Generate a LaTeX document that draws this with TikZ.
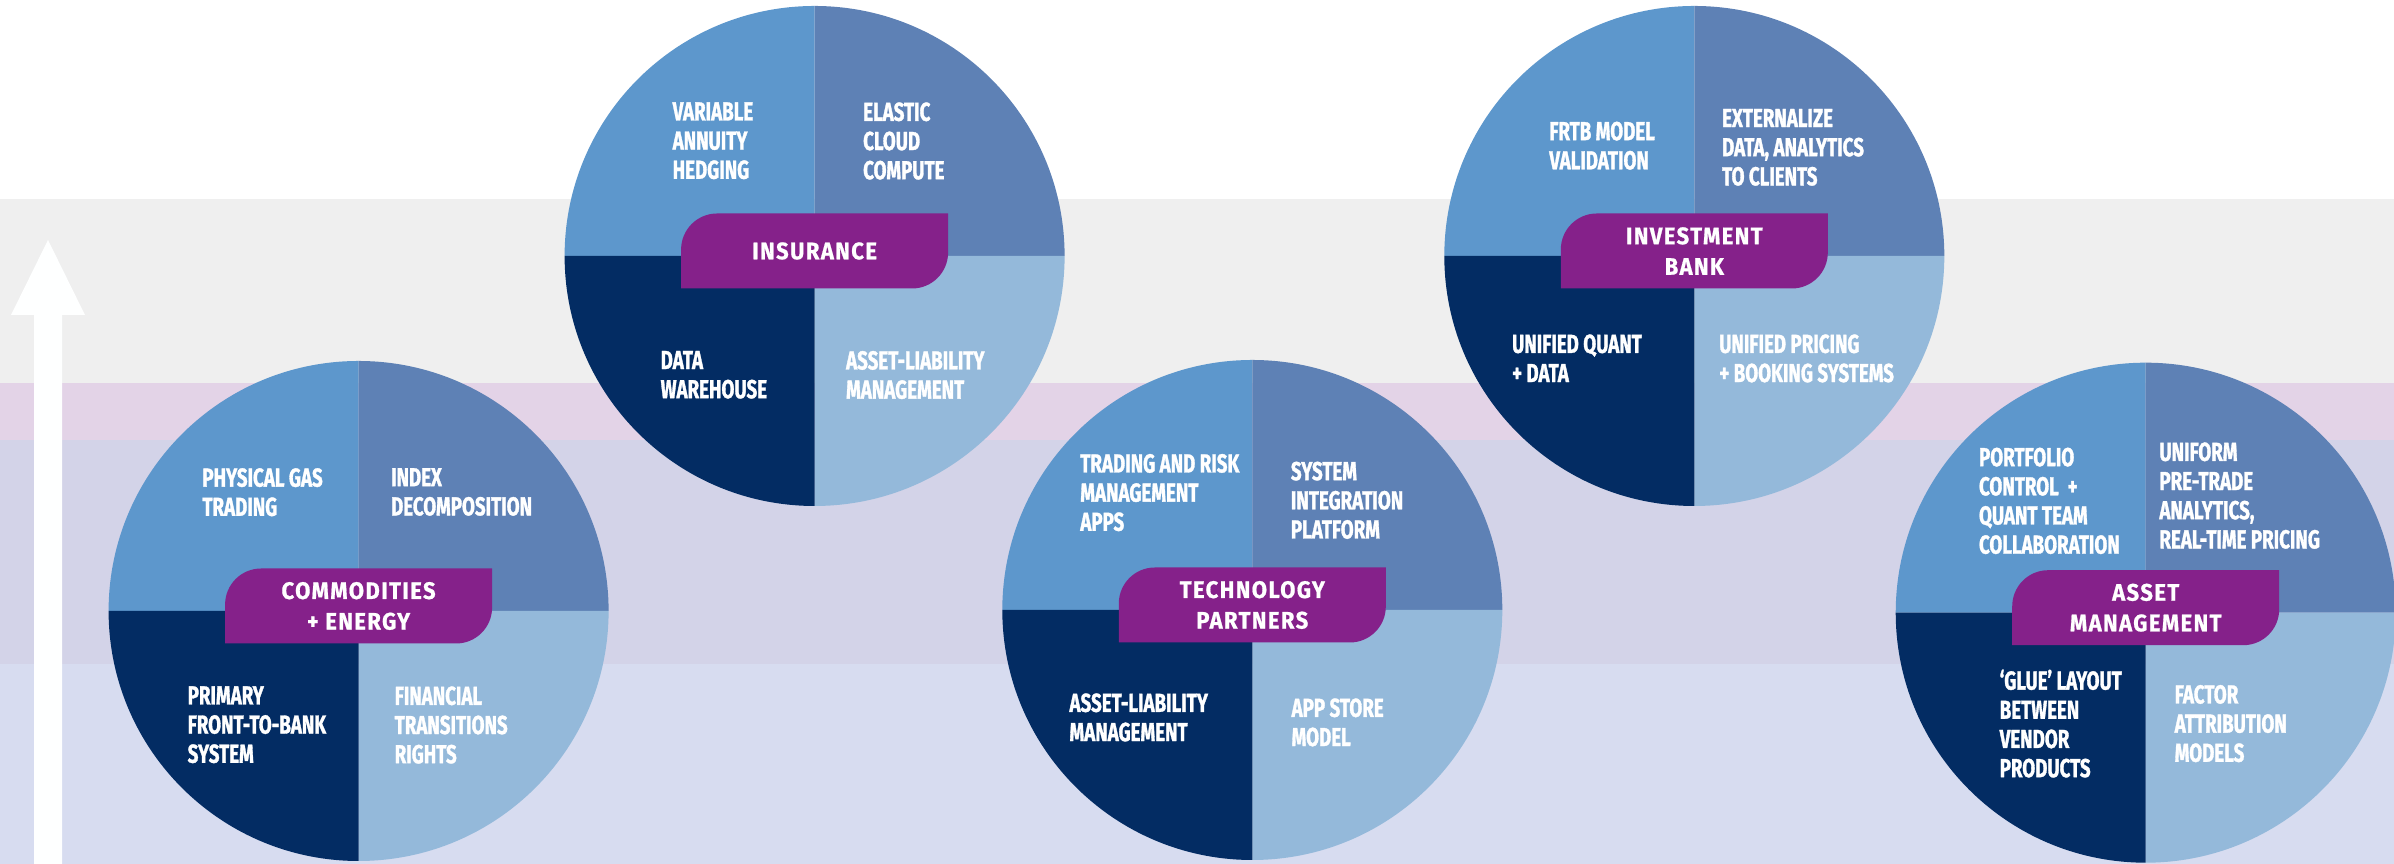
\documentclass[tikz,border=0pt]{standalone}
\usepackage{fontspec}
\usepackage{tikz}
\usetikzlibrary{calc, positioning}
\newfontfamily\quadfont{Fira Sans}[FakeStretch=0.72, BoldFeatures={FakeBold=1.2}]
\newfontfamily\tabfont{Fira Sans}[FakeStretch=0.92, LetterSpace=6, BoldFeatures={FakeBold=0.8}]
\definecolor{bandgray}{HTML}{EFEFEF}
\definecolor{bandpink}{HTML}{E3D3E7}
\definecolor{bandlav}{HTML}{D3D3E8}
\definecolor{bandblue}{HTML}{D7DCF0}
\definecolor{qmid}{HTML}{5D97CC}
\definecolor{qslate}{HTML}{5E81B5}
\definecolor{qnavy}{HTML}{032C63}
\definecolor{qlight}{HTML}{94B9DA}
\definecolor{tabpurple}{HTML}{85218A}

\begin{document}
\begin{tikzpicture}
    % Estilos para los cuadrantes y las pestañas
    \tikzstyle{quad} = [font=\quadfont\bfseries\fontsize{7.4}{8.3}\selectfont, text=white, align=left, inner sep=0pt, anchor=north west]
    \tikzstyle{tab} = [font=\tabfont\bfseries\fontsize{6.8}{8.7}\selectfont, text=white, align=center, inner sep=0pt]
    \tikzstyle{tabfill} = [fill=tabpurple]
    \tikzstyle{qul} = [fill=qmid]
    \tikzstyle{qur} = [fill=qslate]
    \tikzstyle{qll} = [fill=qnavy]
    \tikzstyle{qlr} = [fill=qlight]

    \useasboundingbox (0,0) rectangle (23.94,8.64);

    % Bandas de fondo
    \fill[bandgray] (0,4.81) rectangle (23.94,6.645);
    \fill[bandpink] (0,4.24) rectangle (23.94,4.81);
    \fill[bandlav] (0,2.00) rectangle (23.94,4.24);
    \fill[bandblue] (0,0) rectangle (23.94,2.00);

    % Flecha blanca
    \fill[white!99!bandblue] (0.34,0) -- (0.34,5.49) -- (0.11,5.49) -- (0.48,6.24) -- (0.85,5.49) -- (0.62,5.49) -- (0.62,0) -- cycle;

    % Centros de los círculos
    \node at (3.586,2.53) [coordinate] (com) {};
    \node at (8.146,6.08) [coordinate] (ins) {};
    \node at (12.523,2.54) [coordinate] (tech) {};
    \node at (16.943,6.08) [coordinate] (ib) {};
    \node at (21.457,2.513) [coordinate] (am) {};

    % Commodities + Energy
    \fill[qul] (com) -- ++(-2.5,0) arc[start angle=180, end angle=90, radius=2.5] -- cycle;
    \fill[qur] (com) -- ++(0,2.5) arc[start angle=90, end angle=0, radius=2.5] -- cycle;
    \fill[qlr] (com) -- ++(2.5,0) arc[start angle=0, end angle=-90, radius=2.5] -- cycle;
    \fill[qll] (com) -- ++(0,-2.5) arc[start angle=270, end angle=180, radius=2.5] -- cycle;
    \fill[tabfill] ($(com)+(-1.335,-0.325)$) [rounded corners=3.6mm] -- ++(0,0.75) [sharp corners] -- ++(2.67,0) [rounded corners=3.6mm] -- ++(0,-0.75) [sharp corners] -- cycle;
    \node[tab] (comtab) at ($(com)+(0,0.05)$) {COMMODITIES\\+ ENERGY};
    \node[quad] (comul) at ($(com)+(-1.569,1.435)$) {PHYSICAL GAS\\TRADING};
    \node[quad] (comur) at ($(com)+(0.318,1.435)$) {INDEX\\DECOMPOSITION};
    \node[quad] (comll) at ($(com)+(-1.716,-0.747)$) {PRIMARY\\FRONT-TO-BANK\\SYSTEM};
    \node[quad] (comlr) at ($(com)+(0.354,-0.747)$) {FINANCIAL\\TRANSITIONS\\RIGHTS};

    % Insurance
    \fill[qul] (ins) -- ++(-2.5,0) arc[start angle=180, end angle=90, radius=2.5] -- cycle;
    \fill[qur] (ins) -- ++(0,2.5) arc[start angle=90, end angle=0, radius=2.5] -- cycle;
    \fill[qlr] (ins) -- ++(2.5,0) arc[start angle=0, end angle=-90, radius=2.5] -- cycle;
    \fill[qll] (ins) -- ++(0,-2.5) arc[start angle=270, end angle=180, radius=2.5] -- cycle;
    \fill[tabfill] ($(ins)+(-1.335,-0.325)$) [rounded corners=3.6mm] -- ++(0,0.75) [sharp corners] -- ++(2.67,0) [rounded corners=3.6mm] -- ++(0,-0.75) [sharp corners] -- cycle;
    \node[tab] (instab) at ($(ins)+(0,0.05)$) {INSURANCE};
    \node[quad] (insul) at ($(ins)+(-1.426,1.543)$) {VARIABLE\\ANNUITY\\HEDGING};
    \node[quad] (insur) at ($(ins)+(0.479,1.543)$) {ELASTIC\\CLOUD\\COMPUTE};
    \node[quad] (insll) at ($(ins)+(-1.546,-0.943)$) {DATA\\WAREHOUSE};
    \node[quad] (inslr) at ($(ins)+(0.308,-0.943)$) {ASSET-LIABILITY\\MANAGEMENT};

    % Technology Partners
    \fill[qul] (tech) -- ++(-2.5,0) arc[start angle=180, end angle=90, radius=2.5] -- cycle;
    \fill[qur] (tech) -- ++(0,2.5) arc[start angle=90, end angle=0, radius=2.5] -- cycle;
    \fill[qlr] (tech) -- ++(2.5,0) arc[start angle=0, end angle=-90, radius=2.5] -- cycle;
    \fill[qll] (tech) -- ++(0,-2.5) arc[start angle=270, end angle=180, radius=2.5] -- cycle;
    \fill[tabfill] ($(tech)+(-1.335,-0.325)$) [rounded corners=3.6mm] -- ++(0,0.75) [sharp corners] -- ++(2.67,0) [rounded corners=3.6mm] -- ++(0,-0.75) [sharp corners] -- cycle;
    \node[tab] (techtab) at ($(tech)+(0,0.05)$) {TECHNOLOGY\\PARTNERS};
    \node[quad] (techul) at ($(tech)+(-1.727,1.567)$) {TRADING AND RISK\\MANAGEMENT\\APPS};
    \node[quad] (techur) at ($(tech)+(0.379,1.49)$) {SYSTEM\\INTEGRATION\\PLATFORM};
    \node[quad] (techll) at ($(tech)+(-1.835,-0.827)$) {ASSET-LIABILITY\\MANAGEMENT};
    \node[quad] (techlr) at ($(tech)+(0.386,-0.877)$) {APP STORE\\MODEL};

    % Investment Bank
    \fill[qul] (ib) -- ++(-2.5,0) arc[start angle=180, end angle=90, radius=2.5] -- cycle;
    \fill[qur] (ib) -- ++(0,2.5) arc[start angle=90, end angle=0, radius=2.5] -- cycle;
    \fill[qlr] (ib) -- ++(2.5,0) arc[start angle=0, end angle=-90, radius=2.5] -- cycle;
    \fill[qll] (ib) -- ++(0,-2.5) arc[start angle=270, end angle=180, radius=2.5] -- cycle;
    \fill[tabfill] ($(ib)+(-1.335,-0.325)$) [rounded corners=3.6mm] -- ++(0,0.75) [sharp corners] -- ++(2.67,0) [rounded corners=3.6mm] -- ++(0,-0.75) [sharp corners] -- cycle;
    \node[tab] (ibtab) at ($(ib)+(0,0.05)$) {INVESTMENT\\BANK};
    \node[quad] (ibul) at ($(ib)+(-1.457,1.35)$) {FRTB MODEL\\VALIDATION};
    \node[quad] (ibur) at ($(ib)+(0.271,1.477)$) {EXTERNALIZE\\DATA, ANALYTICS\\TO CLIENTS};
    \node[quad] (ibll) at ($(ib)+(-1.829,-0.777)$) {UNIFIED QUANT\\+ DATA};
    \node[quad] (iblr) at ($(ib)+(0.243,-0.777)$) {UNIFIED PRICING\\+ BOOKING SYSTEMS};

    % Asset Management
    \fill[qul] (am) -- ++(-2.5,0) arc[start angle=180, end angle=90, radius=2.5] -- cycle;
    \fill[qur] (am) -- ++(0,2.5) arc[start angle=90, end angle=0, radius=2.5] -- cycle;
    \fill[qlr] (am) -- ++(2.5,0) arc[start angle=0, end angle=-90, radius=2.5] -- cycle;
    \fill[qll] (am) -- ++(0,-2.5) arc[start angle=270, end angle=180, radius=2.5] -- cycle;
    \fill[tabfill] ($(am)+(-1.335,-0.325)$) [rounded corners=3.6mm] -- ++(0,0.75) [sharp corners] -- ++(2.67,0) [rounded corners=3.6mm] -- ++(0,-0.75) [sharp corners] -- cycle;
    \node[tab] (amtab) at ($(am)+(0,0.05)$) {ASSET\\MANAGEMENT};
    \node[quad] (amul) at ($(am)+(-1.674,1.657)$) {PORTFOLIO\\CONTROL\ \ +\\QUANT TEAM\\COLLABORATION};
    \node[quad] (amur) at ($(am)+(0.13,1.71)$) {UNIFORM\\PRE-TRADE\\ANALYTICS,\\REAL-TIME PRICING};
    \node[quad] (amll) at ($(am)+(-1.467,-0.563)$) {‘GLUE’ LAYOUT\\BETWEEN\\VENDOR\\PRODUCTS};
    \node[quad] (amlr) at ($(am)+(0.283,-0.716)$) {FACTOR\\ATTRIBUTION\\MODELS};
\end{tikzpicture}
\end{document}
